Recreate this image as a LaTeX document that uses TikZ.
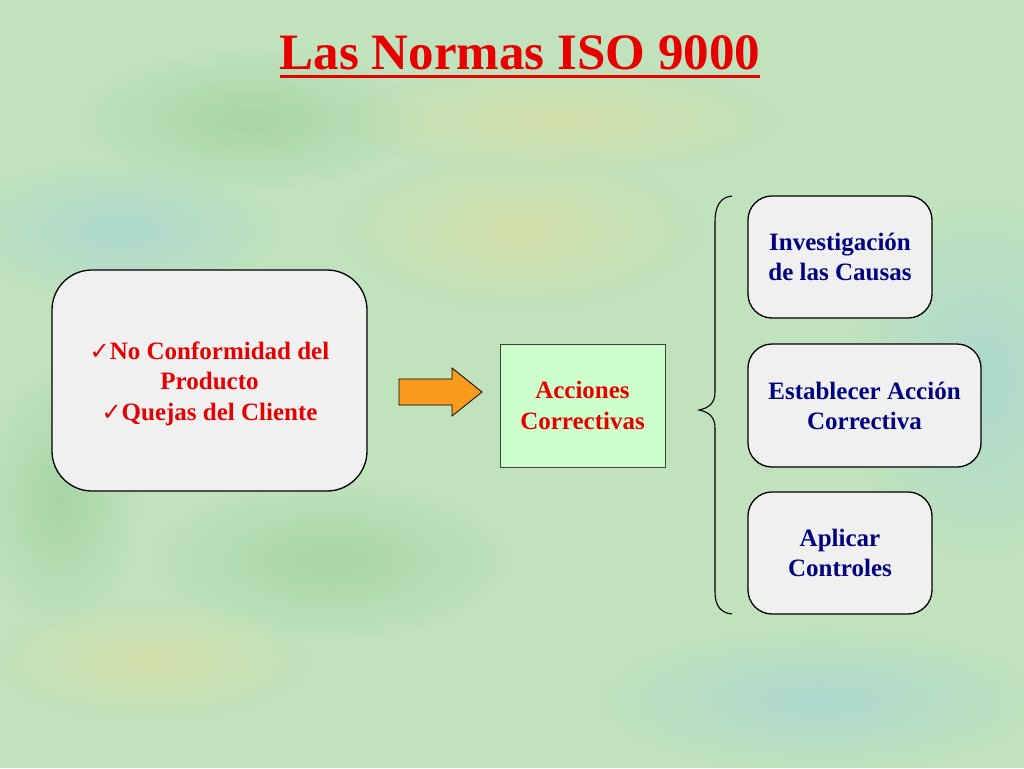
\documentclass[tikz,border=0pt]{standalone}
\usepackage{fontspec}
\setmainfont{Liberation Serif}
\newfontfamily\symfont{DejaVu Sans}
\usetikzlibrary{positioning,fadings}
\tikzfading[name=softblob, inner color=transparent!0, outer color=transparent!100]
\definecolor{bgbase}{RGB}{192,226,188}
\definecolor{bgyellow}{RGB}{218,224,168}
\definecolor{bgblue}{RGB}{168,214,212}
\definecolor{bgdeep}{RGB}{160,210,160}
\definecolor{boxgray}{RGB}{240,240,240}
\definecolor{boxgreen}{RGB}{204,255,204}
\definecolor{txtred}{RGB}{230,0,0}
\definecolor{txtblue}{RGB}{0,0,128}
\definecolor{arroworange}{RGB}{250,155,30}
\tikzset{
  roundbox/.style={draw=black, line width=1.3pt, fill=boxgray, rounded corners=24pt, inner sep=0pt},
  bluetext/.style={text=txtblue, font=\fontsize{25}{30}\selectfont\bfseries, align=center},
  redtext/.style={text=txtred, font=\fontsize{25}{30.5}\selectfont\bfseries, align=center},
  blob/.style={fill opacity=0.8, draw=none, path fading=softblob},
}
\newcommand{\chk}{{\symfont\fontsize{24}{20}\selectfont ✓}}
\begin{document}
\begin{tikzpicture}[x=1pt,y=-1pt]
\useasboundingbox (0,0) rectangle (1024,768);
% background
\fill[bgbase] (0,0) rectangle (1024,768);
\begin{scope}
\clip (0,0) rectangle (1024,768);
\fill[blob, bgyellow] (520,230) ellipse (180 and 80);
\fill[blob, bgyellow] (560,120) ellipse (220 and 55);
\fill[blob, bgblue] (120,230) ellipse (160 and 70);
\fill[blob, bgblue] (980,380) ellipse (130 and 180);
\fill[blob, bgdeep] (250,120) ellipse (170 and 70);
\fill[blob, bgdeep] (330,560) ellipse (180 and 80);
\fill[blob, bgyellow] (150,660) ellipse (160 and 60);
\fill[blob, bgblue] (820,700) ellipse (220 and 70);
\fill[blob, bgdeep] (60,500) ellipse (80 and 130);
\end{scope}
% title
\node[anchor=base, inner sep=0pt, text=txtred, font=\fontsize{51}{56}\selectfont\bfseries] (title) at (520,70) {Las Normas ISO 9000};
\draw[txtred, line width=3pt] ([yshift=-6pt]title.base west) -- ([yshift=-6pt]title.base east);
% left box
\node[roundbox, rounded corners=40pt, minimum width=315pt, minimum height=221pt] (left) at (209.5,380.5) {};
\node[redtext, anchor=center] (lefttext) at ([yshift=-3pt]left.center) {\chk No Conformidad del\\Producto\\\chk Quejas del Cliente};
% arrow
\draw[black, line width=0.8pt, fill=arroworange] (399,379) -- (452,379) -- (452,368) -- (482,392) -- (452,416) -- (452,405) -- (399,405) -- cycle;
% middle box
\node[draw=black!75, line width=1pt, fill=boxgreen, minimum width=165pt, minimum height=123pt, inner sep=0pt] (mid) at (582.5,405.5) {};
\node[redtext] (midtext) at (mid.center) {Acciones\\Correctivas};
% brace
\coordinate (btop) at (732,196);
\coordinate (btip) at (699,410);
\coordinate (bbot) at (732,614);
\draw[black, line width=1.1pt] (btop) .. controls (721,197) and (715,205) .. (715,222) -- (715,392) .. controls (715,403) and (709,408) .. (btip) .. controls (709,412) and (715,417) .. (715,428) -- (715,592) .. controls (715,606) and (721,613) .. (bbot);
% right boxes
\node[roundbox, minimum width=184pt, minimum height=122pt] (r1) at (840,257) {};
\node[bluetext] (r1text) at (r1.center) {Investigación\\de las Causas};
\node[roundbox, minimum width=233pt, minimum height=123pt] (r2) at (864.5,405.5) {};
\node[bluetext] (r2text) at (r2.center) {Establecer Acción\\Correctiva};
\node[roundbox, minimum width=184pt, minimum height=122pt] (r3) at (840,553) {};
\node[bluetext] (r3text) at (r3.center) {Aplicar\\Controles};
\end{tikzpicture}
\end{document}
